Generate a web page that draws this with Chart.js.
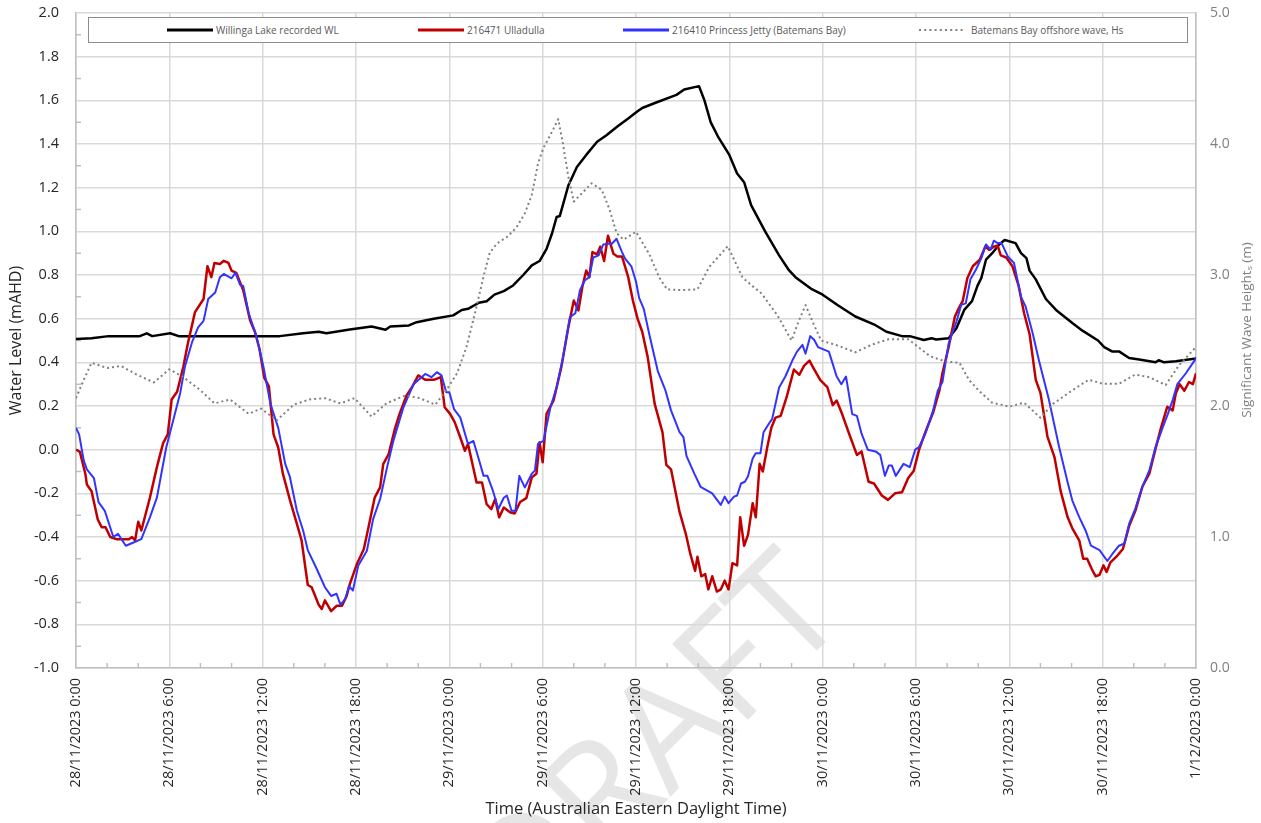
<!DOCTYPE html>
<html>
<head>
<meta charset="utf-8">
<script src="https://cdn.jsdelivr.net/npm/chart.js@4.4.0/dist/chart.umd.min.js"></script>
<style>
  body { margin: 0; background: #fff; }
  #wrap { position: relative; width: 1261px; height: 823px; }
  #legend {
    position: absolute; left: 88px; top: 17px; width: 1100px; height: 26px;
    box-sizing: border-box; border: 1.5px solid #8c8c8c; background: #fff;
    font-family: 'Open Sans', 'Noto Sans', sans-serif; font-size: 10px; color: #595959;
  }
  #legend .item { position: absolute; top: 0; height: 23px; display: flex; align-items: center; }
</style>
</head>
<body>
<div id="wrap">
  <canvas id="chart" width="1261" height="823"></canvas>
  <div id="legend"></div>
</div>
<script>
// hours since 28/11/2023 0:00
const xTickLabels = [
  "28/11/2023 0:00", "28/11/2023 6:00", "28/11/2023 12:00", "28/11/2023 18:00",
  "29/11/2023 0:00", "29/11/2023 6:00", "29/11/2023 12:00", "29/11/2023 18:00",
  "30/11/2023 0:00", "30/11/2023 6:00", "30/11/2023 12:00", "30/11/2023 18:00",
  "1/12/2023 0:00"
];

// Willinga Lake recorded WL (mAHD)
const lakeHours = [0, 1, 2.1, 4.1, 4.55, 4.9, 6.05, 6.6, 13.1, 14.6, 15.6, 16.1, 17.6, 19, 19.9, 20.2, 21.4, 21.9, 23, 24.25,
  24.8, 25.2, 25.9, 26.4, 26.9, 27.5, 28.1, 28.75, 29.3, 29.8, 30.25, 30.6, 30.9, 31.1, 31.65, 32.2, 32.8, 33.5, 34.1, 34.8,
  35.5, 36.1, 36.4, 37.3, 38.6, 39.1, 40.05, 40.4, 40.8, 41.3, 42, 42.5, 42.95, 43.4, 44.3, 45.2, 45.8, 46.25, 47.3, 48,
  49, 50.1, 51.4, 52.1, 53.1, 53.6, 54.5, 55, 55.3, 56.1, 56.6, 57.1, 57.6, 57.95, 58.2, 58.5, 58.9, 59.35, 59.7, 60.4,
  60.75, 61.1, 61.3, 61.7, 62.35, 63, 64.05, 64.7, 65.7, 66.1, 66.6, 67.05, 67.7, 68.35, 69.4, 69.6, 69.95, 70.7, 72];
const lakeLevel = [0.507, 0.51, 0.52, 0.52, 0.533, 0.52, 0.533, 0.52, 0.52, 0.533, 0.54, 0.533, 0.55, 0.564, 0.549, 0.564, 0.569, 0.584, 0.6, 0.615,
  0.64, 0.645, 0.673, 0.68, 0.71, 0.726, 0.752, 0.8, 0.844, 0.864, 0.92, 0.99, 1.066, 1.07, 1.21, 1.295, 1.35, 1.41, 1.44, 1.48,
  1.517, 1.55, 1.565, 1.59, 1.625, 1.65, 1.665, 1.6, 1.5, 1.43, 1.35, 1.265, 1.225, 1.12, 1.0, 0.89, 0.825, 0.79, 0.735, 0.71,
  0.66, 0.61, 0.57, 0.54, 0.52, 0.52, 0.502, 0.51, 0.505, 0.51, 0.556, 0.64, 0.68, 0.75, 0.786, 0.87, 0.9, 0.94, 0.96, 0.946,
  0.9, 0.877, 0.82, 0.78, 0.69, 0.64, 0.58, 0.545, 0.5, 0.47, 0.45, 0.45, 0.42, 0.413, 0.4, 0.41, 0.4, 0.405, 0.418];

// 216471 Ulladulla (mAHD)
const ulladullaHours = [0, 0.25, 0.6, 0.7, 1, 1.4, 1.65, 1.9, 2.2, 2.6, 3.4, 3.6, 3.8, 4, 4.2, 4.75, 5.2, 5.6, 5.9, 6.15,
  6.5, 6.9, 7.2, 7.65, 8.2, 8.45, 8.7, 8.9, 9.25, 9.5, 9.8, 10, 10.3, 10.75, 11.2, 11.5, 11.8, 12.1, 12.4, 12.7,
  13, 13.3, 13.75, 14.2, 14.5, 14.9, 15.15, 15.6, 15.8, 16, 16.4, 16.75, 17.1, 17.4, 17.6, 18.05, 18.5, 18.8, 19.2, 19.55,
  19.75, 20.1, 20.5, 20.8, 21.25, 21.6, 22, 22.45, 23, 23.45, 23.7, 24.05, 24.35, 24.7, 25, 25.2, 25.75, 26.1, 26.4, 26.7,
  26.95, 27.2, 27.5, 27.9, 28.2, 28.55, 28.95, 29.3, 29.6, 29.8, 30, 30.25, 30.7, 31.2, 31.65, 32, 32.3, 32.55, 32.8, 33,
  33.2, 33.5, 33.7, 33.95, 34.2, 34.55, 34.8, 35.1, 35.5, 35.8, 36.1, 36.4, 36.75, 37.2, 37.7, 37.95, 38.25, 38.8, 39.2, 39.5,
  39.8, 39.95, 40.2, 40.45, 40.65, 40.9, 41.2, 41.45, 41.7, 41.95, 42.2, 42.5, 42.7, 42.95, 43.2, 43.5, 43.7, 43.95, 44.15, 44.45,
  44.7, 44.97, 45.3, 45.7, 46.15, 46.5, 46.8, 47.15, 47.4, 47.85, 48.3, 48.65, 48.9, 49.25, 49.7, 50.2, 50.5, 50.95, 51.3, 51.8,
  52.2, 52.65, 53.1, 53.5, 53.85, 54.2, 54.6, 55.1, 55.5, 55.7, 56.1, 56.5, 56.8, 57, 57.3, 57.65, 58.1, 58.45, 58.7, 59,
  59.25, 59.45, 59.8, 60.2, 60.6, 60.95, 61.3, 61.7, 62, 62.45, 62.9, 63.3, 63.75, 64.05, 64.5, 64.75, 65, 65.3, 65.55, 65.8,
  66.05, 66.25, 66.5, 66.95, 67.3, 67.7, 68.1, 68.55, 69, 69.4, 69.75, 70.15, 70.5, 70.7, 70.95, 71.25, 71.55, 71.8, 72];
const ulladullaLevel = [0, -0.01, -0.11, -0.16, -0.19, -0.32, -0.355, -0.355, -0.4, -0.41, -0.41, -0.4, -0.415, -0.33, -0.37, -0.22, -0.08, 0.03, 0.07, 0.23,
  0.265, 0.38, 0.49, 0.63, 0.69, 0.84, 0.79, 0.855, 0.85, 0.865, 0.855, 0.82, 0.81, 0.73, 0.59, 0.54, 0.46, 0.33, 0.29, 0.07,
  0.01, -0.11, -0.23, -0.34, -0.415, -0.62, -0.63, -0.71, -0.73, -0.69, -0.74, -0.715, -0.715, -0.67, -0.616, -0.525, -0.456, -0.356, -0.22, -0.173,
  -0.066, -0.02, 0.095, 0.164, 0.248, 0.286, 0.34, 0.32, 0.32, 0.332, 0.194, 0.164, 0.125, 0.057, -0.005, 0.026, -0.15, -0.15, -0.25, -0.272,
  -0.226, -0.31, -0.265, -0.287, -0.292, -0.24, -0.222, -0.127, -0.11, 0.034, -0.058, 0.164, 0.225, 0.378, 0.56, 0.683, 0.638, 0.745, 0.82, 0.79,
  0.905, 0.895, 0.93, 0.864, 0.98, 0.897, 0.885, 0.885, 0.79, 0.683, 0.6, 0.54, 0.425, 0.21, 0.08, -0.07, -0.09, -0.285, -0.385, -0.48,
  -0.555, -0.49, -0.58, -0.57, -0.64, -0.58, -0.65, -0.64, -0.6, -0.64, -0.52, -0.53, -0.31, -0.44, -0.39, -0.245, -0.31, -0.065, -0.1, 0.016,
  0.1, 0.147, 0.155, 0.245, 0.367, 0.343, 0.384, 0.408, 0.375, 0.318, 0.286, 0.204, 0.225, 0.163, 0.073, -0.024, -0.008, -0.147, -0.155, -0.21,
  -0.23, -0.2, -0.195, -0.13, -0.098, 0, 0.08, 0.17, 0.27, 0.35, 0.47, 0.61, 0.655, 0.68, 0.785, 0.84, 0.87, 0.93, 0.915, 0.93,
  0.935, 0.89, 0.88, 0.84, 0.75, 0.625, 0.53, 0.32, 0.26, 0.06, -0.034, -0.19, -0.31, -0.36, -0.417, -0.5, -0.5, -0.547, -0.58, -0.573,
  -0.53, -0.56, -0.516, -0.485, -0.455, -0.35, -0.28, -0.17, -0.11, 0.005, 0.1, 0.196, 0.18, 0.257, 0.3, 0.27, 0.31, 0.3, 0.35];

// 216410 Princess Jetty (Batemans Bay) (mAHD)
const jettyHours = [0, 0.2, 0.5, 0.7, 1.15, 1.45, 1.85, 2.4, 2.7, 3.2, 3.7, 4.2, 4.75, 5.2, 5.8, 6.25, 6.7, 7, 7.45, 7.85,
  8.2, 8.5, 8.95, 9.25, 9.5, 10, 10.25, 10.55, 10.75, 11.1, 11.6, 12.05, 12.5, 13, 13.45, 13.75, 14.2, 14.6, 14.9, 15.5,
  16, 16.4, 16.75, 17, 17.3, 17.55, 17.8, 18.15, 18.7, 19.1, 19.55, 20, 20.4, 21.05, 21.7, 22.45, 22.85, 23.2, 23.5, 23.8,
  24, 24.3, 24.7, 25.2, 25.55, 25.95, 26.2, 26.45, 26.8, 27.15, 27.5, 27.7, 28, 28.25, 28.5, 28.85, 29.3, 29.5, 29.7, 30.05,
  30.5, 30.9, 31.3, 31.75, 32.1, 32.4, 32.7, 33, 33.25, 33.6, 33.9, 34.2, 34.45, 34.75, 35.1, 35.3, 35.7, 36, 36.2, 36.5,
  36.85, 37.4, 37.9, 38.25, 38.8, 39.05, 39.25, 39.75, 40.15, 40.9, 41.45, 41.7, 41.95, 42.3, 42.5, 42.75, 43, 43.2, 43.5, 43.7,
  44, 44.2, 44.55, 44.75, 45.2, 45.6, 46.05, 46.35, 46.7, 46.9, 47.2, 47.45, 47.7, 48.4, 48.9, 49.2, 49.5, 49.9, 50.2, 50.5,
  50.9, 51.4, 51.7, 52, 52.25, 52.45, 52.7, 53.2, 53.6, 53.95, 54.2, 54.6, 55.1, 55.4, 55.7, 56.1, 56.6, 56.9, 57.2, 57.5,
  57.85, 58.2, 58.5, 58.8, 59, 59.25, 59.5, 59.9, 60.3, 60.75, 61.05, 61.5, 61.9, 62.55, 63.2, 63.75, 64.05, 64.5, 64.9, 65.25,
  65.8, 66.3, 66.6, 67.05, 67.4, 67.7, 68.1, 68.55, 69, 69.4, 69.85, 70.2, 70.5, 70.8, 71.35, 72];
const jettyLevel = [0.1, 0.07, -0.05, -0.09, -0.13, -0.24, -0.28, -0.4, -0.385, -0.44, -0.425, -0.41, -0.31, -0.22, 0.01, 0.135, 0.26, 0.38, 0.49, 0.56,
  0.59, 0.69, 0.72, 0.79, 0.805, 0.785, 0.81, 0.755, 0.75, 0.625, 0.52, 0.38, 0.21, 0.1, -0.065, -0.125, -0.28, -0.37, -0.46, -0.55,
  -0.63, -0.67, -0.66, -0.71, -0.685, -0.625, -0.645, -0.53, -0.463, -0.318, -0.226, -0.08, 0.04, 0.194, 0.3, 0.347, 0.332, 0.355, 0.34, 0.263,
  0.263, 0.186, 0.148, 0.026, 0.04, -0.058, -0.12, -0.12, -0.188, -0.272, -0.22, -0.21, -0.28, -0.28, -0.12, -0.173, -0.11, -0.096, 0.026, 0.04,
  0.194, 0.286, 0.42, 0.607, 0.625, 0.73, 0.775, 0.79, 0.88, 0.89, 0.94, 0.943, 0.943, 0.966, 0.905, 0.875, 0.84, 0.77, 0.695, 0.645,
  0.53, 0.36, 0.27, 0.18, 0.08, 0.057, -0.03, -0.11, -0.17, -0.2, -0.253, -0.215, -0.245, -0.215, -0.21, -0.155, -0.147, -0.122, -0.04, -0.016,
  -0.016, 0.08, 0.12, 0.14, 0.285, 0.335, 0.408, 0.449, 0.48, 0.44, 0.52, 0.503, 0.47, 0.449, 0.335, 0.3, 0.335, 0.163, 0.155, 0.073,
  0, -0.008, -0.024, -0.12, -0.073, -0.073, -0.12, -0.065, -0.08, 0, 0.012, 0.073, 0.18, 0.27, 0.31, 0.487, 0.586, 0.663, 0.67, 0.78,
  0.824, 0.877, 0.94, 0.916, 0.957, 0.946, 0.946, 0.885, 0.855, 0.7, 0.655, 0.533, 0.41, 0.227, 0.012, -0.15, -0.233, -0.31, -0.37, -0.44,
  -0.46, -0.51, -0.48, -0.44, -0.43, -0.34, -0.27, -0.17, -0.095, 0.012, 0.1, 0.165, 0.227, 0.3, 0.35, 0.418];

// Batemans Bay offshore wave, Hs (m)
const waveHours = [0, 0.5, 1, 2, 2.9, 3.9, 5, 6, 6.9, 8, 8.9, 9.9, 11.1, 11.9, 12.9, 14, 15, 16, 17, 17.9,
  19, 19.95, 21.15, 22.1, 23.1, 23.8, 24.5, 25.1, 25.65, 26.2, 26.6, 27.05, 27.7, 28.3, 28.85, 29.3, 29.7, 30.05, 30.5, 31,
  31.3, 31.65, 32, 32.4, 33.15, 33.8, 34.3, 34.75, 35.2, 36, 36.85, 37.5, 38, 39, 39.95, 40.7, 41.9, 42.85, 44.1, 45.1,
  46, 46.5, 46.9, 47.4, 47.9, 49, 50.1, 51.2, 52.25, 53.5, 54.9, 55.9, 56.8, 57.4, 58.1, 58.9, 60, 60.95, 62, 62.8,
  64.05, 65.1, 66, 67.05, 68.1, 69, 70.05, 70.9, 72];
const waveHs = [2.06, 2.2, 2.33, 2.29, 2.305, 2.24, 2.18, 2.28, 2.22, 2.12, 2.02, 2.05, 1.94, 1.98, 1.89, 2.01, 2.05, 2.06, 2.02, 2.06,
  1.92, 2.02, 2.08, 2.06, 2.01, 2.12, 2.25, 2.45, 2.71, 2.99, 3.17, 3.24, 3.29, 3.36, 3.47, 3.61, 3.85, 3.97, 4.07, 4.19,
  4.005, 3.75, 3.56, 3.61, 3.7, 3.65, 3.5, 3.32, 3.27, 3.33, 3.16, 2.98, 2.89, 2.885, 2.89, 3.06, 3.22, 2.98, 2.855, 2.69,
  2.5, 2.66, 2.77, 2.63, 2.5, 2.46, 2.41, 2.47, 2.51, 2.51, 2.38, 2.34, 2.33, 2.2, 2.11, 2.025, 1.995, 2.025, 1.91, 2.015,
  2.12, 2.2, 2.17, 2.17, 2.24, 2.22, 2.16, 2.31, 2.45];

const FONT = "'Open Sans', 'Noto Sans', sans-serif";

function toPoints(hours, values) {
    return hours.map((h, i) => ({ x: h, y: values[i] }));
}

const series = [
    { label: "Willinga Lake recorded WL", color: "#000000", width: 2.5, dash: [], hours: lakeHours, values: lakeLevel, axis: "y" },
    { label: "216471 Ulladulla", color: "#c00000", width: 2.5, dash: [], hours: ulladullaHours, values: ulladullaLevel, axis: "y" },
    { label: "216410 Princess Jetty (Batemans Bay)", color: "#3333ff", width: 2, dash: [], hours: jettyHours, values: jettyLevel, axis: "y" },
    { label: "Batemans Bay offshore wave, Hs", color: "#808080", width: 2, dash: [2, 3], hours: waveHours, values: waveHs, axis: "y2" }
];

// HTML legend
const legendEl = document.getElementById("legend");
const legendLine = [78, 329, 534, 830];
const legendText = [127, 378, 583, 882];
series.forEach((s, i) => {
    const line = document.createElement("div");
    line.className = "item";
    line.style.left = legendLine[i] + "px";
    line.innerHTML = `<svg width="46" height="6"><line x1="0" y1="3" x2="46" y2="3" stroke="${s.color}" stroke-width="${s.dash.length ? 2 : 3}" ${s.dash.length ? 'stroke-dasharray="2 3.2"' : ''}/></svg>`;
    legendEl.appendChild(line);
    const txt = document.createElement("div");
    txt.className = "item";
    txt.style.left = legendText[i] + "px";
    txt.textContent = s.label;
    legendEl.appendChild(txt);
});

// watermark, minor ticks, right axis title
const extras = {
    id: "extras",
    beforeDraw(chart) {
        const ctx = chart.ctx;
        ctx.save();
        ctx.translate(659, 748);
        ctx.rotate(-Math.PI / 4);
        ctx.font = "150px " + FONT;
        ctx.fillStyle = "#e6e6e6";
        ctx.textAlign = "center";
        ctx.textBaseline = "middle";
        ctx.fillText("DRAFT", 0, 0);
        ctx.restore();
    },
    beforeDatasetsDraw(chart) {
        const ctx = chart.ctx;
        const { left, bottom } = chart.chartArea;
        const x = chart.scales.x, y = chart.scales.y;
        ctx.save();
        ctx.strokeStyle = "#bfbfbf";
        ctx.lineWidth = 1.5;
        ctx.beginPath();
        for (let h = 2; h < 72; h += 2) {
            if (h % 6 === 0) continue;
            const px = x.getPixelForValue(h);
            ctx.moveTo(px, bottom);
            ctx.lineTo(px, bottom - 5);
        }
        for (let k = -9; k < 20; k += 2) {
            const py = y.getPixelForValue(k / 10);
            ctx.moveTo(left, py);
            ctx.lineTo(left + 5, py);
        }
        ctx.stroke();
        ctx.restore();
    },
    afterDraw(chart) {
        const ctx = chart.ctx;
        ctx.save();
        ctx.translate(1247, 330);
        ctx.rotate(-Math.PI / 2);
        ctx.font = "13.5px " + FONT;
        ctx.fillStyle = "#808080";
        ctx.textAlign = "center";
        ctx.textBaseline = "middle";
        ctx.fillText("Significant Wave Heightₛ (m)", 0, 0);
        ctx.restore();
    }
};

function fixVertical(width) {
    return s => {
        s.width = width;
        s.paddingTop = 0;
        s.paddingBottom = 0;
    };
}

new Chart(document.getElementById("chart"), {
    type: "line",
    data: {
        datasets: series.map((s, i) => ({
            label: s.label,
            data: toPoints(s.hours, s.values),
            borderColor: s.color,
            borderWidth: s.width,
            borderDash: s.dash,
            borderJoinStyle: "round",
            pointRadius: 0,
            tension: 0,
            fill: false,
            yAxisID: s.axis,
            order: 4 - i
        }))
    },
    options: {
        responsive: false,
        animation: false,
        layout: { padding: { top: 13, left: 0, right: 0, bottom: 0 } },
        plugins: { legend: { display: false }, tooltip: { enabled: false } },
        scales: {
            x: {
                type: "linear",
                min: 0,
                max: 72,
                afterFit: s => { s.height = 155; s.paddingLeft = 0; s.paddingRight = 0; },
                grid: { color: "#d9d9d9", lineWidth: 1.5, drawTicks: false },
                border: { color: "#bfbfbf", width: 1.5 },
                ticks: {
                    stepSize: 6,
                    autoSkip: false,
                    maxRotation: 90,
                    minRotation: 90,
                    padding: 10,
                    color: "#262626",
                    font: { family: FONT, size: 14.5 },
                    callback: v => xTickLabels[Math.round(v / 6)]
                },
                title: {
                    display: true,
                    text: "Time (Australian Eastern Daylight Time)",
                    color: "#262626",
                    font: { family: FONT, size: 16.5 },
                    padding: { top: 0, bottom: 4 }
                }
            },
            y: {
                position: "left",
                min: -1,
                max: 2,
                afterFit: fixVertical(76),
                grid: { color: "#d9d9d9", lineWidth: 1.5, drawTicks: false },
                border: { color: "#bfbfbf", width: 1.5 },
                ticks: {
                    stepSize: 0.2,
                    padding: 17,
                    color: "#262626",
                    font: { family: FONT, size: 14.5 },
                    callback: v => v.toFixed(1)
                },
                title: {
                    display: true,
                    text: "Water Level (mAHD)",
                    color: "#262626",
                    font: { family: FONT, size: 16 },
                    padding: { top: 7, bottom: 0 }
                }
            },
            y2: {
                position: "right",
                min: 0,
                max: 5,
                afterFit: fixVertical(65),
                grid: { drawOnChartArea: false, drawTicks: false },
                border: { color: "#bfbfbf", width: 1.5 },
                ticks: {
                    stepSize: 1,
                    padding: 14,
                    color: "#808080",
                    font: { family: FONT, size: 14 },
                    callback: v => v.toFixed(1)
                }
            }
        }
    },
    plugins: [extras]
});
</script>
</body>
</html>
